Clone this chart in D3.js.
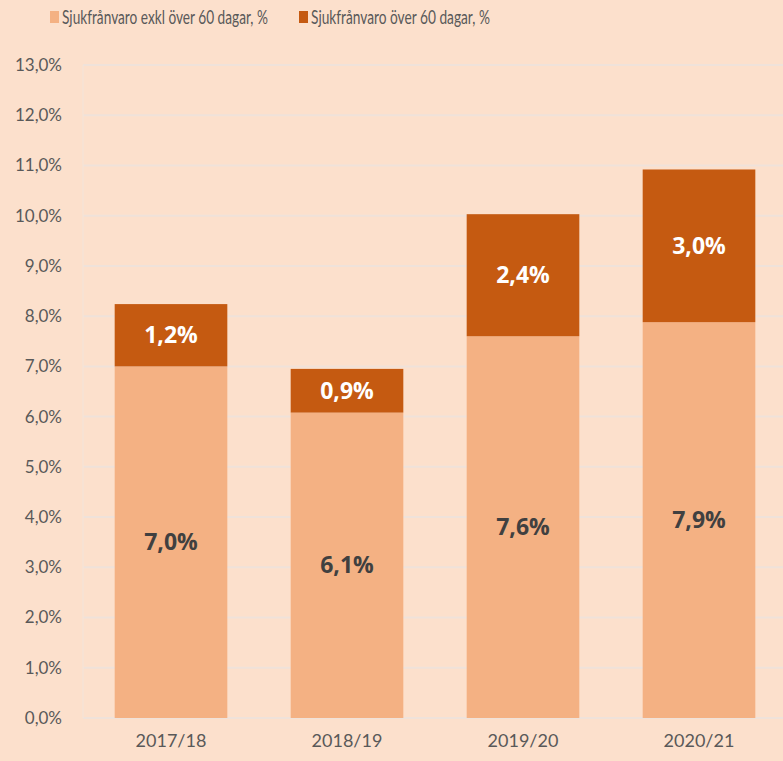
<!DOCTYPE html>
<html>
<head>
<meta charset="utf-8">
<script src="https://cdn.jsdelivr.net/npm/d3@7"></script>
<style>
  html, body { margin: 0; padding: 0; background: #fce0cc; }
  svg { display: block; }
</style>
</head>
<body>
<svg></svg>
<script>
// data
var years = ["2017/18", "2018/19", "2019/20", "2020/21"];
var shortLeave = [7.0, 6.08, 7.6, 7.88];   // exkl over 60 dagar
var longLeave = [1.24, 0.87, 2.43, 3.04];  // over 60 dagar
var seriesNames = ["Sjukfrånvaro exkl över 60 dagar, %", "Sjukfrånvaro över 60 dagar, %"];
var yTicks = [0,1,2,3,4,5,6,7,8,9,10,11,12,13];

function pct(v) { return v.toFixed(1).replace(".", ",") + "%"; }

function chart() {
    var width = 783,
        height = 761;
    var left = 83, right = 787, top = 65, bottom = 718;
    var colors = ["#f4b183", "#c55a11"];

    var svg = d3.select("svg")
        .attr("width", width)
        .attr("height", height);
    svg.selectAll("*").remove();

    svg.append("rect").attr("width", width).attr("height", height).attr("fill", "#fce0cc");

    var x = d3.scaleBand().domain(years).range([left, right]).paddingInner(0.36).paddingOuter(0.18);
    var y = d3.scaleLinear().domain([0, 13]).range([bottom, top]);

    // grid
    svg.append("g").selectAll("line")
        .data(yTicks)
        .enter().append("line")
        .attr("x1", left).attr("x2", width)
        .attr("y1", function(d) { return y(d); })
        .attr("y2", function(d) { return y(d); })
        .attr("stroke", "#efe2da")
        .attr("stroke-width", 2);
    svg.append("line")
        .attr("x1", left).attr("x2", left)
        .attr("y1", top).attr("y2", bottom)
        .attr("stroke", "#f6e3d6").attr("stroke-width", 1.5);

    // y axis labels
    var yAxis = d3.axisLeft(y).tickValues(yTicks).tickSize(0).tickPadding(0)
        .tickFormat(function(d) { return pct(d); });
    var ya = svg.append("g").attr("transform", "translate(62,0)").call(yAxis);
    ya.select(".domain").remove();
    ya.selectAll("text")
        .attr("font-family", "Lato, 'Open Sans', sans-serif")
        .attr("font-size", 17)
        .attr("fill", "#595959");

    // x axis labels
    var xAxis = d3.axisBottom(x).tickSize(0).tickPadding(0);
    var xa = svg.append("g").attr("transform", "translate(0,734)").call(xAxis);
    xa.select(".domain").remove();
    xa.selectAll("text")
        .attr("font-family", "Lato, 'Open Sans', sans-serif")
        .attr("font-size", 18)
        .attr("fill", "#595959");

    var rows = years.map(function(yr, i) { return {year: yr, a: shortLeave[i], b: longLeave[i]}; });

    var bar = svg.append("g").selectAll("g")
        .data(rows)
        .enter().append("g");

    bar.append("rect")
        .attr("x", function(d) { return x(d.year); })
        .attr("width", x.bandwidth())
        .attr("y", function(d) { return y(d.a); })
        .attr("height", function(d) { return y(0) - y(d.a); })
        .attr("fill", colors[0]);

    bar.append("rect")
        .attr("x", function(d) { return x(d.year); })
        .attr("width", x.bandwidth())
        .attr("y", function(d) { return y(d.a + d.b); })
        .attr("height", function(d) { return y(d.a) - y(d.a + d.b); })
        .attr("fill", colors[1]);

    bar.append("text")
        .attr("x", function(d) { return x(d.year) + x.bandwidth() / 2; })
        .attr("y", function(d) { return y(d.a / 2); })
        .attr("dy", "0.35em")
        .attr("text-anchor", "middle")
        .attr("font-family", "'Open Sans', sans-serif")
        .attr("font-weight", "bold")
        .attr("font-size", 23)
        .attr("fill", "#404040")
        .text(function(d) { return pct(d.a); });

    bar.append("text")
        .attr("x", function(d) { return x(d.year) + x.bandwidth() / 2; })
        .attr("y", function(d) { return y(d.a + d.b / 2); })
        .attr("dy", "0.35em")
        .attr("text-anchor", "middle")
        .attr("font-family", "'Open Sans', sans-serif")
        .attr("font-weight", "bold")
        .attr("font-size", 23)
        .attr("fill", "#ffffff")
        .text(function(d) { return pct(d.b); });

    // legend (text squeezed horizontally to mimic a narrow font)
    var legendX = [50, 299];
    var legendW = [206, 179];
    var leg = svg.append("g").selectAll("g")
        .data(seriesNames)
        .enter().append("g")
        .attr("transform", function(d, i) { return "translate(" + legendX[i] + ",0)"; });
    leg.append("rect")
        .attr("x", 0).attr("y", 11)
        .attr("width", 9).attr("height", 12)
        .attr("fill", function(d, i) { return colors[i]; });
    leg.append("text")
        .attr("x", 0).attr("y", 17)
        .attr("dy", "0.35em")
        .attr("font-family", "Lato, 'Open Sans', sans-serif")
        .attr("font-size", 20)
        .attr("fill", "#595959")
        .text(function(d) { return d; })
        .attr("transform", function(d, i) {
            var w = this.getComputedTextLength();
            return "translate(12,0) scale(" + (legendW[i] / w) + ",1)";
        });
}

chart();
</script>
</body>
</html>
